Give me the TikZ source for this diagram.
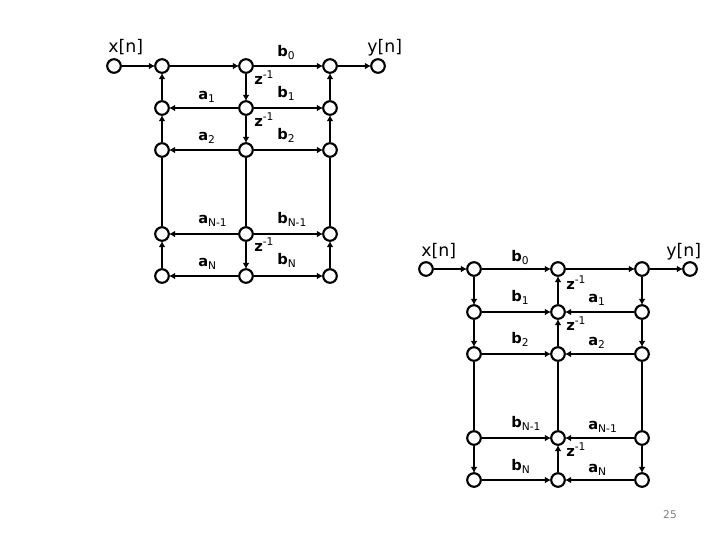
\documentclass[tikz,border=0pt]{standalone}
\usepackage{fontspec}
\setmainfont{DejaVu Sans}
\usetikzlibrary{arrows.meta}
\tikzset{
 px/.style={x=0.75pt,y=-0.75pt},
 sig/.style={circle,draw=black,line width=1.6pt,fill=white,minimum size=10.2pt,inner sep=0pt},
 wire/.style={line width=1.5pt,-{Latex[length=4.5pt,width=5pt]},shorten >=-0.6pt},
 plain/.style={line width=1.5pt},
 lab/.style={font=\fontsize{11.5pt}{13pt}\selectfont,inner sep=0pt,anchor=base west},
}
\newcommand{\lowi}[1]{{\fontsize{8pt}{9pt}\selectfont\raisebox{-2.5pt}{#1}}}
\newcommand{\upi}[1]{{\fontsize{8pt}{9pt}\selectfont\raisebox{4.5pt}{#1}}}
\newcommand{\mainl}[1]{{\fontsize{11pt}{13pt}\selectfont\bfseries #1}}
\begin{document}
\begin{tikzpicture}[px]
\useasboundingbox (0,0) rectangle (720,540);
\foreach \n/\x/\y in {lx/114/66,la0/162/66,lm0/246/66,lr0/330/66,ly/378/66,
 la1/162/108,lm1/246/108,lr1/330/108,
 la2/162/150,lm2/246/150,lr2/330/150,
 la3/162/234,lm3/246/234,lr3/330/234,
 la4/162/276,lm4/246/276,lr4/330/276,
 rx/426/269,ra0/474/269,rm0/558/269,rr0/642/269,ry/690/269,
 ra1/474/312,rm1/558/312,rr1/642/312,
 ra2/474/354,rm2/558/354,rr2/642/354,
 ra3/474/438,rm3/558/438,rr3/642/438,
 ra4/474/480,rm4/558/480,rr4/642/480}
 \node[sig] (\n) at (\x,\y) {};
\foreach \a/\b in {lx/la0,la0/lm0,lm0/lr0,lr0/ly,
 lm0/lm1,lm1/lm2,lm3/lm4,
 la1/la0,la2/la1,la4/la3,lr1/lr0,lr2/lr1,lr4/lr3,
 lm1/la1,lm2/la2,lm3/la3,lm4/la4,
 lm1/lr1,lm2/lr2,lm3/lr3,lm4/lr4,
 rx/ra0,ra0/rm0,rm0/rr0,rr0/ry,
 ra0/ra1,ra1/ra2,ra3/ra4,rr0/rr1,rr1/rr2,rr3/rr4,
 rm1/rm0,rm2/rm1,rm4/rm3,
 ra1/rm1,ra2/rm2,ra3/rm3,ra4/rm4,
 rr1/rm1,rr2/rm2,rr3/rm3,rr4/rm4}
 \draw[wire] (\a) -- (\b);
\foreach \a/\b in {la3/la2,lm2/lm3,lr3/lr2,ra2/ra3,rm3/rm2,rr2/rr3}
 \draw[plain] (\a) -- (\b);
\foreach \n/\x/\y/\t in {t1/108/52/{x[n]},t2/367/52/{y[n]},t3/421/256/{x[n]},t4/666/256/{y[n]}}
 \node[lab,font=\fontsize{13pt}{14pt}\selectfont] (\n) at (\x,\y) {\t};
\foreach \n/\x/\y/\t in {
 l1/277/56/{\mainl{b}\lowi{0}},l2/198/99/{\mainl{a}\lowi{1}},l3/277/97/{\mainl{b}\lowi{1}},l4/198/140/{\mainl{a}\lowi{2}},l5/277/139/{\mainl{b}\lowi{2}},
 l6/198/223/{\mainl{a}\lowi{N-1}},l7/277/223/{\mainl{b}\lowi{N-1}},l8/198/266/{\mainl{a}\lowi{N}},l9/277/264/{\mainl{b}\lowi{N}},
 l10/254/84/{\mainl{z}\upi{-1}},l11/254/126/{\mainl{z}\upi{-1}},l12/254/251/{\mainl{z}\upi{-1}},
 r1/511/261/{\mainl{b}\lowi{0}},r2/511/301/{\mainl{b}\lowi{1}},r3/511/343/{\mainl{b}\lowi{2}},r4/511/427/{\mainl{b}\lowi{N-1}},r5/511/470/{\mainl{b}\lowi{N}},
 r6/588/302/{\mainl{a}\lowi{1}},r7/588/345/{\mainl{a}\lowi{2}},r8/588/429/{\mainl{a}\lowi{N-1}},r9/588/472/{\mainl{a}\lowi{N}},
 r10/566/289/{\mainl{z}\upi{-1}},r11/566/330/{\mainl{z}\upi{-1}},r12/566/456/{\mainl{z}\upi{-1}}}
 \node[lab] (\n) at (\x,\y) {\t};
\node[font=\fontsize{8pt}{9pt}\selectfont,text=black!50,inner sep=0pt] (pg) at (670,515) {25};
\end{tikzpicture}
\end{document}
